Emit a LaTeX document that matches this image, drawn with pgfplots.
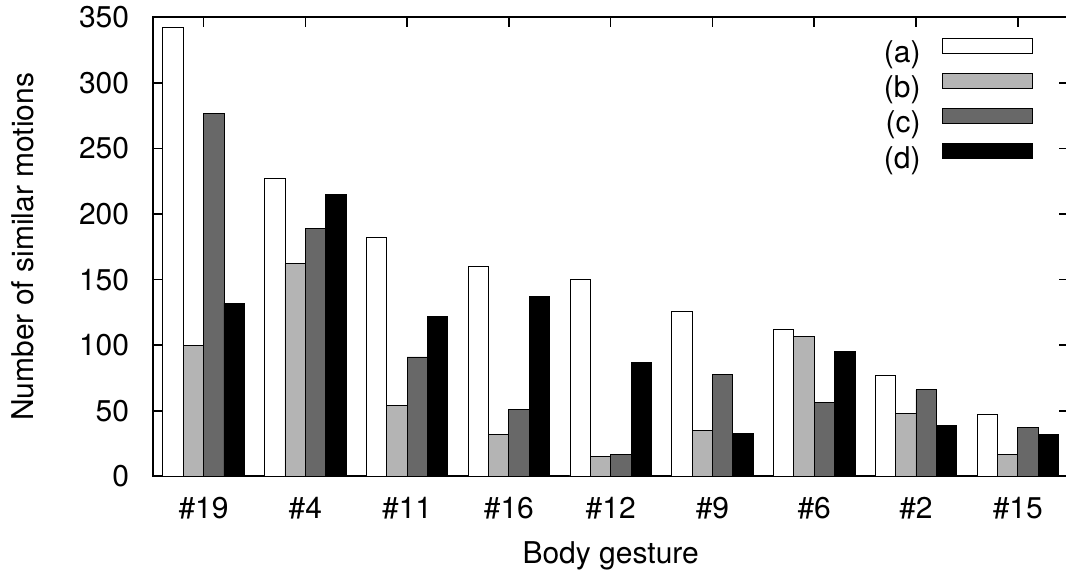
\documentclass[border=0pt]{standalone}
\usepackage{pgfplots}
\usepackage{pgfplotstable}
\pgfplotsset{compat=1.18}
\usepackage{fontspec}
\setmainfont{TeX Gyre Heros}
\definecolor{lgray}{RGB}{180,180,180}
\definecolor{dgray}{RGB}{104,104,104}
\pgfplotsset{legbox/.style={legend image code/.code={\draw[##1, line width=0.6pt] (0pt,2.65pt) rectangle (67pt,14.35pt);}}}
\pgfplotstableread{
x a b c d
0 342 100 277 132
1 227 162 189 215
2 182 54 91 122
3 160 32 51 137
4 150 15 17 87
5 126 35 78 33
6 112 107 56 95
7 77 48 66 39
8 47 17 37 32
}\data
\begin{document}
\fontsize{22.5}{27}\selectfont
\begin{tikzpicture}
\begin{axis}[
 name=ax,
 scale only axis, width=687pt, height=344.25pt,
 xmin=-0.5, xmax=8.5, ymin=0, ymax=350,
 ybar, bar width=0.2,
 every axis plot post/.append style={legbox},
 xtick={0,...,8},
 xticklabels={\#19,\#4,\#11,\#16,\#12,\#9,\#6,\#2,\#15},
 ytick={0,50,...,350},
 tick align=inside, tick pos=both,
 major tick length=7.5pt,
 separate axis lines,
 every outer x axis line/.append style={line width=1.6pt, line cap=rect},
 every outer y axis line/.append style={line width=1.6pt, line cap=rect},
 every tick/.style={black, line width=1.2pt},
 /pgf/number format/assume math mode=true,
 tick label style={font=\fontsize{22.5}{27}\selectfont},
 xticklabel style={anchor=base, inner sep=0pt, yshift=-31.5pt},
 yticklabel style={anchor=east, inner sep=0pt, xshift=-17.5pt},
 xlabel={Body gesture},
 ylabel={Number of similar motions},
 label style={font=\fontsize{22.5}{27}\selectfont},
 xlabel style={at={(axis description cs:0.5,0)}, anchor=base, inner sep=0pt, yshift=-65.25pt},
 ylabel style={at={(axis description cs:-0.1303,0.5)}, anchor=base, inner sep=0pt},
 legend plot pos=right,
 legend cell align=right,
 legend style={at={(rel axis cs:0.9607,0.9566)}, anchor=north east, draw=none, fill=none,
   inner sep=0pt, row sep=0pt, column sep=16.2pt,
   nodes={inner sep=0pt, text height=16pt, text depth=7.3pt},
   font=\fontsize{22.5}{27}\selectfont},
]
\addplot[fill=white, draw=black, line width=0.6pt, bar shift=-0.3] table[x=x,y=a]{\data};
\addplot[fill=lgray, draw=black, line width=0.6pt, bar shift=-0.1] table[x=x,y=b]{\data};
\addplot[fill=dgray, draw=black, line width=0.6pt, bar shift=0.1] table[x=x,y=c]{\data};
\addplot[fill=black, draw=black, line width=0.6pt, bar shift=0.3] table[x=x,y=d]{\data};
\legend{(a),(b),(c),(d)}
\end{axis}
\pgfresetboundingbox
\path[use as bounding box] ([xshift=-114.5pt,yshift=-74pt]ax.south west) rectangle ([xshift=685pt,yshift=13pt]ax.north west);
\end{tikzpicture}
\end{document}
